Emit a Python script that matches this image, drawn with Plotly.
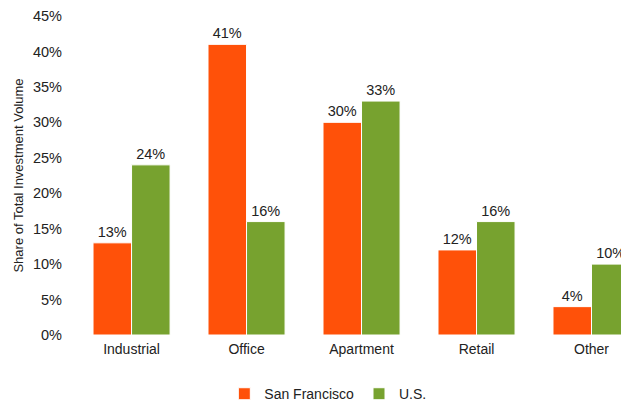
import plotly.graph_objects as go

categories = ["Industrial", "Office", "Apartment", "Retail", "Other"]
san_francisco = [13, 41, 30, 12, 4]
us = [24, 16, 33, 16, 10]
y_ticks = [0, 5, 10, 15, 20, 25, 30, 35, 40, 45]
y_tick_labels = [f"{v}%" for v in y_ticks]

font = "Liberation Sans, Arial, Helvetica, sans-serif"

fig = go.Figure()
fig.add_trace(go.Bar(
    x=categories, y=san_francisco, name="San Francisco",
    marker=dict(color="#FF5109", line=dict(color="white", width=1)),
    text=[f"{v}%" for v in san_francisco], textposition="outside", constraintext="none",
    textfont=dict(color="#222222", size=14.5, family=font),
    cliponaxis=False, hoverinfo="x+y",
))
fig.add_trace(go.Bar(
    x=categories, y=us, name="U.S.",
    marker=dict(color="#77A22F", line=dict(color="white", width=1)),
    text=[f"{v}%" for v in us], textposition="outside", constraintext="none",
    textfont=dict(color="#222222", size=14.5, family=font),
    cliponaxis=False, hoverinfo="x+y",
))

fig.update_layout(
    width=621, height=394,
    margin=dict(l=58, r=0, t=8, b=67, autoexpand=False),
    paper_bgcolor="white", plot_bgcolor="white",
    barmode="group", bargap=0.33, bargroupgap=0,
    font=dict(family=font, size=14, color="#222222"),
    showlegend=True,
    legend=dict(orientation="h", xref="container", yref="container",
                x=0.515, xanchor="center", y=0.02, yanchor="middle",
                font=dict(size=14), traceorder="normal"),
    xaxis=dict(range=[-0.57, 4.326], showline=False, ticks="", showgrid=False,
               automargin=False, tickfont=dict(size=14), ticklabelstandoff=4),
    yaxis=dict(range=[0, 45], tickvals=y_ticks, ticktext=y_tick_labels,
               showgrid=False, zeroline=False, showline=False, ticks="",
               automargin=False, tickfont=dict(size=14.5), ticklabelstandoff=3,
               title=dict(text="Share of Total Investment Volume", font=dict(size=13), standoff=6)),
)

fig.write_html("out.html")
